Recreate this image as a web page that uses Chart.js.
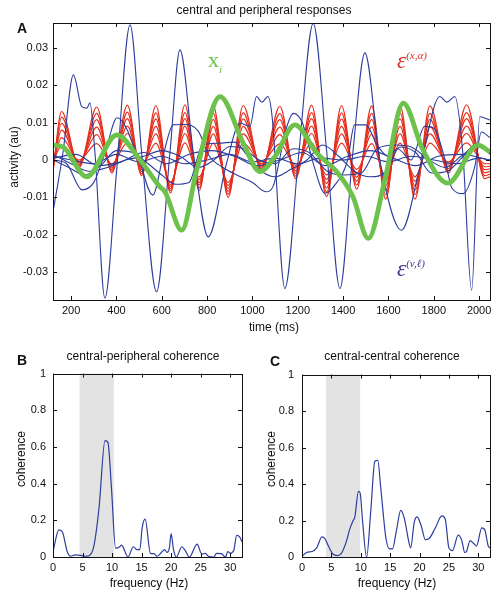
<!DOCTYPE html>
<html>
<head>
<meta charset="utf-8">
<script src="https://cdn.jsdelivr.net/npm/chart.js@4.4.0/dist/chart.umd.min.js"></script>
<style>
body { margin: 0; background: #fff; }
#fig { position: relative; width: 504px; height: 599px; overflow: hidden; font-family: "Liberation Sans", Arial, sans-serif; color: #111; }
canvas { position: absolute; }
.t { position: absolute; white-space: nowrap; transform: translate(-50%, -50%); font-size: 12px; line-height: 1; }
.rot { transform: translate(-50%, -50%) rotate(-90deg); }
.letter { font-weight: bold; font-size: 14px; }
.math { font-family: "Liberation Serif", "DejaVu Serif", serif; }
.math sup, .math sub { font-size: 11px; font-style: italic; }
</style>
</head>
<body>
<div id="fig">
  <canvas id="top" width="504" height="340" style="left:0;top:0"></canvas>
  <canvas id="cohB" width="252" height="239" style="left:0;top:360px"></canvas>
  <canvas id="cohC" width="252" height="239" style="left:252px;top:360px"></canvas>

  <div class="t" style="left:264px;top:10px">central and peripheral responses</div>
  <div class="t letter" style="left:22px;top:28px">A</div>
  <div class="t rot" style="left:14px;top:157px">activity (au)</div>
  <div class="t" style="left:274px;top:327px">time (ms)</div>

  <div class="t letter" style="left:22px;top:360px">B</div>
  <div class="t" style="left:143px;top:356px">central-peripheral coherence</div>
  <div class="t rot" style="left:21px;top:459px">coherence</div>
  <div class="t" style="left:149px;top:583px">frequency (Hz)</div>

  <div class="t letter" style="left:275px;top:361px">C</div>
  <div class="t" style="left:392px;top:356px">central-central coherence</div>
  <div class="t rot" style="left:271px;top:459px">coherence</div>
  <div class="t" style="left:397px;top:583px">frequency (Hz)</div>

  <div class="t math" style="left:215px;top:62px;color:#6cc24a;font-size:22px">x<sub>i</sub></div>
  <div class="t math" style="left:412px;top:60px;color:#d8342a;font-size:23px"><i>ε</i><sup>(x,α)</sup></div>
  <div class="t math" style="left:411px;top:268px;color:#3e3a8e;font-size:23px"><i>ε</i><sup>(v,ℓ)</sup></div>
</div>

<script>
// tick labels
const timeTicks = [200, 400, 600, 800, 1000, 1200, 1400, 1600, 1800, 2000];
const activityTicks = [-0.03, -0.02, -0.01, 0, 0.01, 0.02, 0.03];
const freqTicks = [0, 5, 10, 15, 20, 25, 30];
const cohTicks = [0, 0.2, 0.4, 0.6, 0.8, 1];

// x_i (central response)
const greenT = [120, 164, 269, 401, 504, 592, 614, 688, 754, 857, 959, 1033, 1099, 1187, 1283, 1371, 1443, 1511, 1584, 1665, 1752, 1862, 1995, 2048];
const greenV = [0.004, 0.0035, -0.0045, 0.0067, 0.0, -0.0072, -0.0085, -0.0188, -0.0027, 0.017, 0.0045, -0.0031, 0.0009, 0.0094, 0.0019, -0.0031, -0.0098, -0.021, -0.0054, 0.0152, 0.0027, -0.0062, 0.004, 0.0022];

// peripheral responses (blue)
const blueBigT = [120, 164, 210, 247, 269, 283, 305, 349, 401, 460, 511, 577, 636, 680, 739, 805, 886, 945, 989, 1018, 1042, 1068, 1086, 1143, 1205, 1268, 1328, 1386, 1443, 1496, 1562, 1658, 1739, 1827, 1858, 1893, 1928, 1967, 2003, 2048];
const blueBigV = [-0.0139, 0.002, 0.0228, 0.0143, 0.0139, 0.0153, 0.002, -0.037, -0.0027, 0.0362, 0.002, -0.0353, 0.002, 0.0295, 0.002, -0.0206, -0.0008, 0.0099, 0.009, 0.017, 0.0155, 0.017, 0.012, -0.0344, 0.002, 0.0366, 0.002, -0.0344, 0.002, 0.0287, 0.0, -0.0188, -0.002, 0.017, 0.0155, 0.017, 0.0019, -0.0349, 0.0116, 0.0107];

const blueMidT = [120, 180, 248, 300, 350, 403, 440, 500, 560, 610, 650, 700, 760, 810, 870, 930, 1000, 1060, 1090, 1150, 1180, 1220, 1270, 1320, 1360, 1420, 1450, 1500, 1550, 1600, 1640, 1700, 1760, 1800, 1850, 1880, 1930, 1980, 2010, 2048];
const blueMidV = [0.0, -0.001, -0.008, -0.006, 0.002, 0.0113, 0.009, 0.0, -0.0094, 0.0022, 0.0094, 0.0095, 0.0078, 0.001, -0.002, -0.004, -0.006, -0.0085, -0.0072, 0.0086, 0.0125, 0.01, -0.0013, -0.0089, -0.007, 0.0, 0.0094, 0.0094, 0.004, 0.001, 0.003, 0.0, 0.009, 0.0085, 0.0, -0.0075, -0.009, -0.002, 0.0075, 0.006];

const blueLowT = [120, 190, 260, 330, 400, 470, 540, 600, 660, 720, 780, 850, 920, 980, 1040, 1100, 1170, 1240, 1310, 1380, 1450, 1520, 1590, 1650, 1720, 1790, 1860, 1930, 1990, 2048];
const blueLowV = [0.0, -0.002, -0.004, -0.0015, 0.0025, 0.002, -0.001, -0.004, -0.0065, -0.006, 0.004, 0.0045, 0.0048, 0.001, -0.003, -0.0045, -0.0025, 0.0, 0.004, 0.001, -0.003, -0.0045, -0.003, 0.0035, 0.002, -0.0035, -0.003, 0.001, 0.0045, 0.0015];

const blueSmallT = [120, 200, 280, 360, 440, 520, 600, 680, 760, 830, 900, 960, 1030, 1100, 1180, 1250, 1330, 1400, 1480, 1550, 1630, 1700, 1780, 1850, 1920, 2000, 2048];
const blueSmallV = [0.0015, -0.001, -0.003, -0.002, 0.0, 0.001, 0.0025, 0.001, -0.002, 0.0, 0.0036, 0.003, 0.0, -0.001, 0.003, 0.002, -0.003, -0.004, -0.0035, 0.003, 0.004, 0.0035, 0.0, -0.002, 0.001, 0.004, 0.002];

const blueFlatT = [120, 200, 300, 400, 500, 600, 700, 800, 900, 1000, 1100, 1200, 1300, 1400, 1500, 1600, 1700, 1800, 1900, 2000, 2048];
const blueFlatV = [0.001, 0.0, -0.001, 0.0015, -0.0005, 0.001, -0.001, 0.0, 0.0015, -0.0005, 0.0005, -0.001, 0.0005, 0.0, 0.001, -0.0005, 0.001, 0.0, -0.001, 0.0005, 0.0];

const blueFlat2T = [120, 220, 320, 420, 520, 620, 720, 820, 920, 1020, 1120, 1220, 1320, 1420, 1520, 1620, 1720, 1820, 1920, 2048];
const blueFlat2V = [0.0005, 0.0015, -0.0015, -0.0005, 0.002, -0.001, 0.0015, 0.0025, 0.001, -0.0015, 0.0, 0.002, -0.0015, 0.001, 0.0025, 0.0005, -0.0015, 0.001, 0.0015, 0.0];

// peripheral responses (red), peaks and troughs
const redT = [120, 158, 235, 313, 380, 448, 511, 574, 638, 702, 765, 827, 893, 959, 1040, 1121, 1191, 1261, 1327, 1393, 1460, 1526, 1588, 1651, 1717, 1783, 1864, 1945, 2025, 2048];
const red1 = [-0.003, 0.013, -0.002, 0.0142, -0.0035, 0.0147, -0.0042, 0.0146, -0.0088, 0.0148, -0.0082, 0.0145, -0.010, 0.0146, -0.0028, 0.0144, -0.005, 0.0147, -0.0098, 0.0146, -0.0078, 0.0145, -0.0105, 0.0146, -0.0105, 0.0145, -0.0035, 0.0148, -0.005, -0.0045];
const red2 = [-0.0025, 0.0115, -0.0016, 0.0125, -0.003, 0.0128, -0.0037, 0.0126, -0.0082, 0.0127, -0.0075, 0.0125, -0.0092, 0.0126, -0.0023, 0.0124, -0.0043, 0.0127, -0.0086, 0.0126, -0.0067, 0.0125, -0.0093, 0.0126, -0.0093, 0.0125, -0.0029, 0.0127, -0.0042, -0.0038];
const red3 = [-0.002, 0.0098, -0.0012, 0.0108, -0.0025, 0.0111, -0.0031, 0.011, -0.0077, 0.0111, -0.0067, 0.0109, -0.0084, 0.011, -0.0019, 0.0108, -0.0036, 0.0111, -0.0075, 0.011, -0.0057, 0.0109, -0.0081, 0.011, -0.0081, 0.0109, -0.0023, 0.0111, -0.0034, -0.003];
const red4 = [-0.0015, 0.008, -0.0008, 0.0088, -0.002, 0.0091, -0.0026, 0.009, -0.0071, 0.0091, -0.006, 0.009, -0.0076, 0.009, -0.0014, 0.0088, -0.0029, 0.0091, -0.0063, 0.009, -0.0046, 0.0089, -0.0069, 0.009, -0.0069, 0.009, -0.0017, 0.0091, -0.0026, -0.0024];
const red5 = [-0.001, 0.006, -0.0004, 0.0068, -0.0015, 0.0071, -0.002, 0.007, -0.0066, 0.0071, -0.0052, 0.007, -0.0068, 0.007, -0.001, 0.0068, -0.0022, 0.0071, -0.0052, 0.007, -0.0036, 0.0069, -0.0057, 0.007, -0.0057, 0.007, -0.0011, 0.0071, -0.0018, -0.0017];
const red6 = [-0.0005, 0.0038, 0.0, 0.0044, -0.001, 0.0046, -0.0015, 0.0045, -0.006, 0.0046, -0.0045, 0.0045, -0.006, 0.0045, -0.0005, 0.0043, -0.0015, 0.0046, -0.004, 0.0045, -0.0025, 0.0044, -0.0045, 0.0045, -0.0045, 0.0045, -0.0005, 0.0046, -0.001, -0.001];

// coherence spectra
const freqB = [0, 1.0, 1.6, 2.4, 3.0, 3.8, 4.7, 5.5, 6.1, 6.9, 7.8, 8.8, 9.3, 9.9, 10.6, 11.3, 11.6, 12.7, 13.6, 14.2, 14.7, 15.1, 15.6, 16.5, 17.1, 17.6, 18.5, 18.9, 19.3, 19.7, 20.0, 20.4, 20.9, 21.8, 22.4, 23.1, 24.4, 25.2, 25.8, 26.3, 27.2, 27.7, 28.5, 29.2, 29.6, 30.0, 30.6, 31.1, 31.6, 32.0];
const cohB = [0.03, 0.148, 0.136, 0.03, 0.004, 0.012, 0.009, 0.004, 0.007, 0.056, 0.27, 0.635, 0.625, 0.374, 0.048, 0.056, 0.065, 0.0, 0.056, 0.04, 0.04, 0.16, 0.207, 0.02, 0.018, 0.004, 0.03, 0.04, 0.025, 0.048, 0.127, 0.04, 0.0, 0.056, 0.035, 0.0, 0.07, 0.016, 0.02, 0.004, 0.0, 0.02, 0.018, 0.0, 0.03, 0.02, 0.035, 0.118, 0.11, 0.083];
const bandB = [4.5, 10.3];

const freqC = [0, 0.8, 1.7, 2.5, 3.4, 3.9, 4.5, 5.3, 6.0, 6.7, 7.5, 8.1, 8.7, 9.0, 9.6, 9.9, 10.3, 11.0, 11.7, 12.4, 12.9, 13.4, 14.3, 14.9, 15.4, 16.1, 16.8, 17.4, 18.2, 18.5, 19.1, 19.6, 20.3, 21.0, 21.6, 22.7, 23.8, 24.4, 25.0, 25.6, 26.6, 27.2, 27.7, 28.0, 28.6, 29.2, 29.7, 30.6, 31.1, 31.7, 32.0];
const cohC = [0.004, 0.025, 0.03, 0.05, 0.11, 0.1, 0.06, 0.015, 0.008, 0.02, 0.08, 0.15, 0.2, 0.22, 0.36, 0.35, 0.2, 0.0, 0.25, 0.525, 0.53, 0.38, 0.1, 0.045, 0.045, 0.15, 0.256, 0.215, 0.08, 0.05, 0.19, 0.22, 0.17, 0.095, 0.1, 0.16, 0.225, 0.205, 0.05, 0.035, 0.12, 0.09, 0.025, 0.03, 0.09, 0.075, 0.06, 0.16, 0.15, 0.06, 0.05];
const bandC = [4.1, 9.9];

const GREEN = '#6cc24a';
const BLUE = '#2d3d9c';
const RED = '#e5301f';
const tickFont = { family: '"Liberation Sans", Arial, sans-serif', size: 11 };

function line(t, v, color, width) {
    return {
        data: t.map((x, i) => ({ x: x, y: v[i] })),
        borderColor: color,
        borderWidth: width,
        pointRadius: 0,
        cubicInterpolationMode: 'monotone',
        fill: false,
        clip: 0
    };
}

// matlab style box with inward ticks
const frame = {
    id: 'frame',
    afterDraw(chart) {
        const { ctx, chartArea: a, scales } = chart;
        const len = 4;
        ctx.save();
        ctx.strokeStyle = '#111';
        ctx.lineWidth = 1;
        ctx.beginPath();
        scales.x.ticks.forEach(t => {
            const p = Math.round(scales.x.getPixelForValue(t.value)) + 0.5;
            ctx.moveTo(p, a.bottom); ctx.lineTo(p, a.bottom - len);
            ctx.moveTo(p, a.top); ctx.lineTo(p, a.top + len);
        });
        scales.y.ticks.forEach(t => {
            const p = Math.round(scales.y.getPixelForValue(t.value)) + 0.5;
            ctx.moveTo(a.left, p); ctx.lineTo(a.left + len, p);
            ctx.moveTo(a.right, p); ctx.lineTo(a.right - len, p);
        });
        ctx.stroke();
        ctx.strokeRect(Math.round(a.left) + 0.5, Math.round(a.top) + 0.5, Math.round(a.width), Math.round(a.height));
        ctx.restore();
    }
};

// grey frequency band behind the spectra
const band = {
    id: 'band',
    beforeDatasetsDraw(chart, args, opts) {
        if (!opts.range) return;
        const { ctx, chartArea: a, scales: { x } } = chart;
        const x0 = x.getPixelForValue(opts.range[0]);
        const x1 = x.getPixelForValue(opts.range[1]);
        ctx.save();
        ctx.fillStyle = '#e3e3e3';
        ctx.fillRect(x0, a.top, x1 - x0, a.height);
        ctx.restore();
    }
};

function axis(min, max, ticks, size, pad, horizontal) {
    return {
        type: 'linear',
        min: min,
        max: max,
        grid: { display: false, drawTicks: false },
        border: { display: false },
        afterBuildTicks: s => { s.ticks = ticks.map(v => ({ value: v })); },
        afterFit: s => { if (horizontal) s.height = size; else s.width = size; },
        ticks: { padding: pad, maxRotation: 0, autoSkip: false, color: '#111', font: tickFont, callback: v => String(v) }
    };
}

const baseOptions = (padding, x, y, range) => ({
    responsive: false,
    animation: false,
    layout: { padding: padding },
    plugins: { legend: { display: false }, tooltip: { enabled: false }, band: { range: range } },
    scales: { x: x, y: y }
});

new Chart(document.getElementById('top'), {
    type: 'line',
    data: {
        datasets: [
            line(greenT, greenV, GREEN, 4.8),
            line(blueBigT, blueBigV, BLUE, 1.1),
            line(blueMidT, blueMidV, BLUE, 1.1),
            line(blueLowT, blueLowV, BLUE, 1.1),
            line(blueSmallT, blueSmallV, BLUE, 1.1),
            line(blueFlatT, blueFlatV, BLUE, 1.1),
            line(blueFlat2T, blueFlat2V, BLUE, 1.1),
            line(redT, red1, RED, 1.2),
            line(redT, red2, RED, 1.2),
            line(redT, red3, RED, 1.2),
            line(redT, red4, RED, 1.2),
            line(redT, red5, RED, 1.2),
            line(redT, red6, RED, 1.2)
        ]
    },
    options: baseOptions({ left: 0, top: 23, right: 14, bottom: 0 },
        axis(120, 2048, timeTicks, 40, 4, true),
        axis(-0.0375, 0.0367, activityTicks, 53, 5, false), null),
    plugins: [frame]
});

new Chart(document.getElementById('cohB'), {
    type: 'line',
    data: { datasets: [line(freqB, cohB, BLUE, 1.2)] },
    options: baseOptions({ left: 0, top: 8, right: 10, bottom: 0 },
        axis(0, 32, freqTicks, 42, 4, true),
        axis(0, 1, cohTicks, 53, 7, false), bandB),
    plugins: [band, frame]
});

new Chart(document.getElementById('cohC'), {
    type: 'line',
    data: { datasets: [line(freqC, cohC, BLUE, 1.2)] },
    options: baseOptions({ left: 0, top: 8, right: 14, bottom: 0 },
        axis(0, 32, freqTicks, 42, 4, true),
        axis(0, 1, cohTicks, 50, 8, false), bandC),
    plugins: [band, frame]
});
</script>
</body>
</html>
